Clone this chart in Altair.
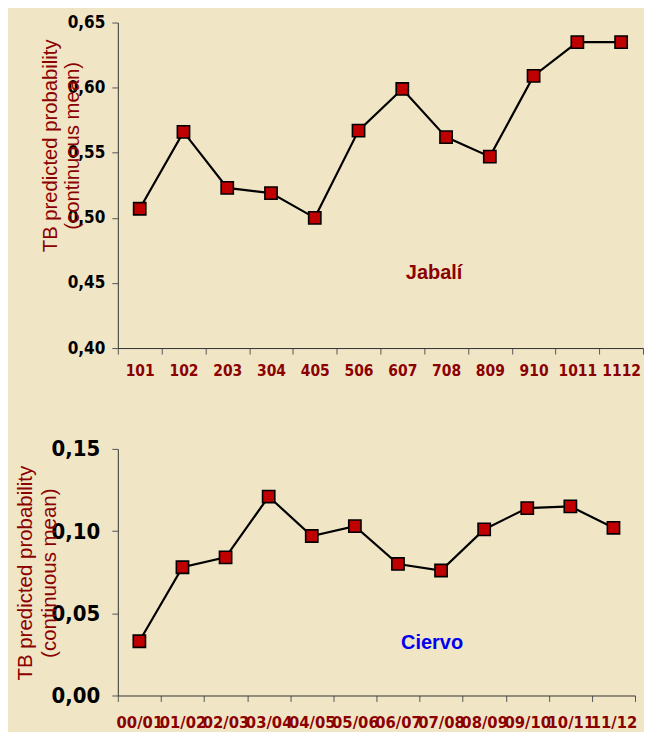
import altair as alt
import pandas as pd

jab_cat = ["101", "102", "203", "304", "405", "506", "607", "708", "809", "910", "1011", "1112"]
jab_val = [0.507, 0.566, 0.523, 0.519, 0.500, 0.567, 0.599, 0.562, 0.547, 0.609, 0.635, 0.635]

cie_cat = ["00/01", "01/02", "02/03", "03/04", "04/05", "05/06", "06/07", "07/08", "08/09", "09/10", "10/11", "11/12"]
cie_val = [0.033, 0.078, 0.084, 0.121, 0.097, 0.103, 0.080, 0.076, 0.101, 0.114, 0.115, 0.102]

y_title = ["TB predicted probability", "(continuous mean)"]
BG = "#F0E6C6"
DARKRED = "#8B0000"
NARROW = "'DejaVu Sans Condensed', 'Liberation Sans Narrow', 'Arial Narrow', 'Liberation Sans', sans-serif"
SANS = "'Liberation Sans', Arial, sans-serif"

df1 = pd.DataFrame({"cat": jab_cat, "val": jab_val})
df2 = pd.DataFrame({"cat": cie_cat, "val": cie_val})
lab1 = pd.DataFrame({"cat": ["708"], "val": [0.458], "t": ["Jabalí"]})
lab2 = pd.DataFrame({"cat": ["07/08"], "val": [0.032], "t": ["Ciervo"]})


def panel(df, lab, cats, ymin, ymax, w, h, ylab_size, ylab_pad, xlab_size, xlab_pad,
          title_size, title_lh, title_x, title_y, txt_color, txt_dx):
    xenc = alt.X("cat:N", sort=cats, title=None,
                 scale=alt.Scale(type="band", paddingInner=0, paddingOuter=0),
                 axis=alt.Axis(labelAngle=0, labelColor=DARKRED, labelFont=NARROW,
                               labelFontWeight="bold", labelFontSize=xlab_size,
                               labelPadding=xlab_pad, tickBand="extent", tickSize=6,
                               domainColor="#333333", tickColor="#555555",
                               labelOverlap=False, labelBound=False))
    yenc = alt.Y("val:Q", title=y_title,
                 scale=alt.Scale(domain=[ymin, ymax], nice=False, zero=False),
                 axis=alt.Axis(values=[round(ymin + i * 0.05, 2) for i in range(int(round((ymax - ymin) / 0.05)) + 1)],
                               labelExpr="replace(format(datum.value, '.2f'), '.', ',')",
                               labelFont=NARROW, labelFontWeight="bold", labelFontSize=ylab_size,
                               labelColor="black", grid=False, tickSize=6, labelPadding=ylab_pad,
                               domainColor="#333333", tickColor="#555555",
                               titleColor=DARKRED, titleFont=SANS, titleFontWeight="normal",
                               titleFontSize=title_size, titleAngle=-90, titleX=title_x, titleY=title_y,
                               titleLineHeight=title_lh, titleAlign="center", titleBaseline="middle"))
    line = alt.Chart(df).mark_line(color="black", strokeWidth=2.2).encode(x=xenc, y=yenc)
    pts = alt.Chart(df).mark_point(shape="square", filled=True, fill="#C00000", stroke="black",
                                   strokeWidth=1.6, size=150, opacity=1).encode(x=xenc, y=yenc)
    txt = alt.Chart(lab).mark_text(font=SANS, fontWeight="bold", fontSize=20,
                                   color=txt_color, dx=txt_dx).encode(x=xenc, y=yenc, text="t:N")
    return alt.layer(line, pts, txt).properties(width=w, height=h)


top = panel(df1, lab1, jab_cat, 0.40, 0.65, 526, 326, 17, 7, 15.5, 10,
            20.3, 22, -67, 123, DARKRED, -12)
bot = panel(df2, lab2, cie_cat, 0.00, 0.15, 518, 247, 22, 12, 16.5, 13,
            20.5, 24, -92, 124, "#0000EE", -9)

chart = alt.vconcat(top, bot, spacing=101, bounds="flush").configure(
    background=BG, padding={"left": 7, "top": 5, "right": 0, "bottom": 0}
).configure_view(stroke=None, fill=BG)

chart.save("out.html", embed_options={"renderer": "svg", "actions": False})
